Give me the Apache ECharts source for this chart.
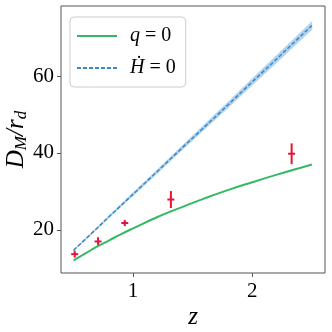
<!DOCTYPE html>
<html>
<head>
<meta charset="utf-8">
<script src="https://cdn.jsdelivr.net/npm/echarts@6/dist/echarts.min.js"></script>
<style>
  html, body { margin: 0; padding: 0; background: #fff; }
  #main { width: 332px; height: 332px; }
</style>
</head>
<body>
<div id="main"></div>
<script>
// model curves
var zLine = [0.5, 0.6, 0.7, 0.8, 0.9, 1.0, 1.2, 1.4, 1.6, 1.8, 2.0, 2.2, 2.4, 2.5];
var qZero = [12.1, 13.9, 15.7, 17.3, 18.9, 20.4, 23.3, 25.8, 28.2, 30.4, 32.4, 34.3, 36.1, 37.0];
var hDotZero = [14.7, 17.6, 20.5, 23.5, 26.4, 29.3, 35.1, 41.0, 46.8, 52.6, 58.5, 64.3, 70.2, 73.1];
var hDotBand = [0.15, 0.2, 0.25, 0.3, 0.35, 0.4, 0.5, 0.55, 0.65, 0.75, 0.85, 0.95, 1.0, 1.05];

// observed points with error bars
var zObs = [0.51, 0.706, 0.93, 1.317, 2.33];
var dObs = [13.7, 17.0, 21.8, 27.9, 39.8];
var errObs = [0.9, 1.1, 0.8, 2.2, 2.7];

var xTicks = [1, 2];
var yTicks = [20, 40, 60];

var chart = echarts.init(document.getElementById('main'));

var serif = '"Liberation Serif", "DejaVu Serif", serif';

var qData = zLine.map(function (z, i) { return [z, qZero[i]]; });
var hData = zLine.map(function (z, i) { return [z, hDotZero[i]]; });
// band drawn segment by segment: z0, z1, lo0, hi0, lo1, hi1
var bandData = [];
for (var i = 0; i < zLine.length - 1; i++) {
  bandData.push([zLine[i], zLine[i + 1],
    hDotZero[i] - hDotBand[i], hDotZero[i] + hDotBand[i],
    hDotZero[i + 1] - hDotBand[i + 1], hDotZero[i + 1] + hDotBand[i + 1]]);
}
var obsData = zObs.map(function (z, i) { return [z, dObs[i], errObs[i]]; });

chart.setOption({
  animation: false,
  grid: {
    left: 61, right: 7, top: 6, bottom: 59,
    outerBoundsMode: 'none', containLabel: false,
    show: true, borderColor: '#555', borderWidth: 1
  },
  legend: {
    orient: 'vertical',
    left: 70, top: 17,
    itemWidth: 40, itemHeight: 14, itemGap: 12,
    padding: [9, 10, 9, 6],
    backgroundColor: '#fff',
    borderColor: '#ccc', borderWidth: 1, borderRadius: 4,
    itemStyle: { opacity: 0 },
    data: ['q', 'H'],
    formatter: function (name) {
      return name === 'q' ? '{i|q}{n| = 0}' : '{i|H\u0307}{n| = 0}';
    },
    textStyle: {
      padding: [0, 0, 0, 8],
      rich: {
        i: { fontFamily: serif, fontStyle: 'italic', fontSize: 20, color: '#000' },
        n: { fontFamily: serif, fontSize: 20, color: '#000' }
      }
    }
  },
  xAxis: {
    type: 'value', min: 0.395, max: 2.61,
    splitLine: { show: false },
    axisLine: { show: false },
    axisTick: { show: true, length: 4, customValues: xTicks, lineStyle: { color: '#555' } },
    axisLabel: { customValues: xTicks, color: '#000', fontFamily: serif, fontSize: 21, margin: 8 },
    name: 'z', nameLocation: 'middle', nameGap: 32, nameMoveOverlap: false,
    nameTextStyle: { fontFamily: serif, fontStyle: 'italic', fontSize: 25, color: '#000' }
  },
  yAxis: {
    type: 'value', min: 8.8, max: 78.2,
    splitLine: { show: false },
    axisLine: { show: false },
    axisTick: { show: true, length: 4, customValues: yTicks, lineStyle: { color: '#555' } },
    axisLabel: { customValues: yTicks, color: '#000', fontFamily: serif, fontSize: 21, margin: 7 },
    name: '{d|D}{s|M}{d|/r}{s|d}', nameLocation: 'middle', nameGap: 31, nameRotate: 90,
    nameMoveOverlap: false,
    nameTextStyle: {
      rich: {
        d: { fontFamily: serif, fontStyle: 'italic', fontSize: 25, color: '#000' },
        s: { fontFamily: serif, fontStyle: 'italic', fontSize: 17, color: '#000', padding: [10, 0, 0, 0] }
      }
    }
  },
  series: [
    {
      name: 'band', type: 'custom', data: bandData, silent: true,
      renderItem: function (params, api) {
        var a = api.coord([api.value(0), api.value(2)]);
        var b = api.coord([api.value(0), api.value(3)]);
        var c = api.coord([api.value(1), api.value(5)]);
        var d = api.coord([api.value(1), api.value(4)]);
        return {
          type: 'polygon',
          shape: { points: [a, b, c, d] },
          style: { fill: '#b3d3ec', stroke: '#b3d3ec', lineWidth: 0.5 }
        };
      }
    },
    {
      name: 'q', type: 'line', data: qData, symbol: 'none', smooth: true,
      lineStyle: { color: '#35b863', width: 2 }, itemStyle: { color: '#35b863' }
    },
    {
      name: 'H', type: 'line', data: hData, symbol: 'none',
      lineStyle: { color: '#3a88c8', width: 1.5, type: [4, 2] }, itemStyle: { color: '#3a88c8' }
    },
    {
      name: 'obs', type: 'custom', data: obsData,
      renderItem: function (params, api) {
        var z = api.value(0), d = api.value(1), e = api.value(2);
        var c = api.coord([z, d]);
        var top = api.coord([z, d + e]);
        var bot = api.coord([z, d - e]);
        return {
          type: 'group',
          children: [
            { type: 'line', shape: { x1: top[0], y1: top[1], x2: bot[0], y2: bot[1] },
              style: { stroke: '#f01028', lineWidth: 2 } },
            { type: 'line', shape: { x1: c[0] - 3.5, y1: c[1], x2: c[0] + 3.5, y2: c[1] },
              style: { stroke: '#d81848', lineWidth: 2 } }
          ]
        };
      }
    }
  ]
});
</script>
</body>
</html>
